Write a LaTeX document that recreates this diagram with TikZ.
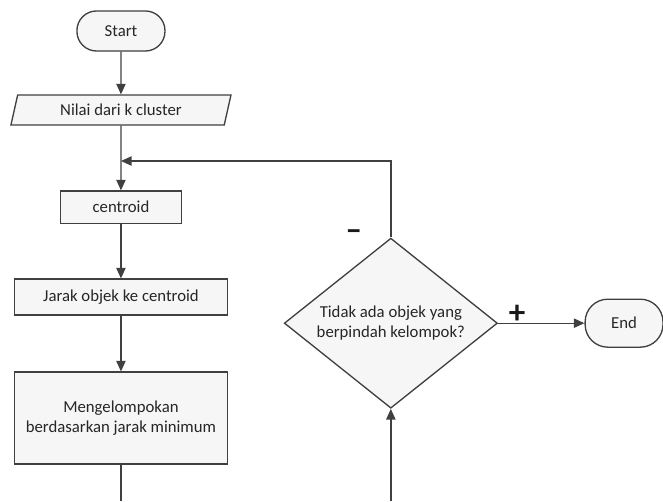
\documentclass[tikz,border=0pt]{standalone}
\usepackage{fontspec}
\setmainfont{Carlito}
\usepackage{xcolor}
\usetikzlibrary{shapes.geometric, arrows.meta}
\usetikzlibrary{positioning}
\definecolor{linegray}{HTML}{404040}
\definecolor{boxfill}{HTML}{F6F6F6}

\begin{document}
\begin{tikzpicture}[->,>={Triangle[length=8pt,width=7pt]},line width=1pt,draw=linegray,text=black!85,font=\fontsize{12.6}{15.5}\selectfont]
			\tikzstyle{terminal}=[rectangle,draw=linegray,fill=boxfill,rounded corners=0.52cm]
			\tikzstyle{io}=[trapezium,trapezium left angle=72,trapezium right angle=108,trapezium stretches body,draw=linegray,fill=boxfill,minimum width=5.82cm,minimum height=0.79cm]
			\tikzstyle{process}=[rectangle,draw=linegray,fill=boxfill,minimum width=5.64cm]
			\tikzstyle{decision}=[diamond,aspect=1.25,draw=linegray,fill=boxfill,align=center,inner sep=0pt,minimum width=5.64cm,minimum height=4.5cm]
			\tikzstyle{sign}=[font=\Huge\bfseries,text=black!90]
			\useasboundingbox (-3.20,0.82) rectangle (14.34,-12.44);
			\node[terminal,minimum width=2.33cm,minimum height=1.06cm]    (start)                                       {Start};
			\node[io]       (input)[below of=start,node distance=2.09cm]                 {Nilai dari k cluster};
			\node[process,minimum width=3.2cm,minimum height=0.85cm]     (centroid)[below of=input,node distance=2.57cm]   {centroid};
			\node[process,minimum height=0.95cm]  (jarak)[below of=centroid,node distance=2.38cm]  {Jarak objek ke centroid};
			\node[process,minimum height=2.43cm,align=center]  (group)[below of=jarak,node distance=3.2cm]  {Mengelompokan\\berdasarkan jarak minimum};
			\node[decision] (check)[right of=jarak,node distance=7.14cm,yshift=-0.69cm] {Tidak ada objek yang\\berpindah kelompok?};
			\node[terminal,minimum width=2.06cm,minimum height=1.27cm,rounded corners=0.6cm] (end)[right of=check,node distance=6.17cm] {End};
			\node[sign]     (minus) at ([xshift=-0.98cm,yshift=0.05cm]check.north)   {--};
			\coordinate[below of=input,node distance=1.35cm] (join);
			\coordinate     (botL) at (group.south |- 0,-12.44);
			\coordinate     (botR) at (check.south |- 0,-12.44);
			\path
			(start) edge (input)
			(input) edge (centroid)
			(centroid) edge (jarak)
			(jarak) edge (group)
			(botR) edge (check)
			(check) edge node[sign,above=-4pt,pos=0.22] (plus) {+} (end);
			\draw[-] (group) -- (botL);
			\draw (check.north) |- (join);
		\end{tikzpicture}
\end{document}
